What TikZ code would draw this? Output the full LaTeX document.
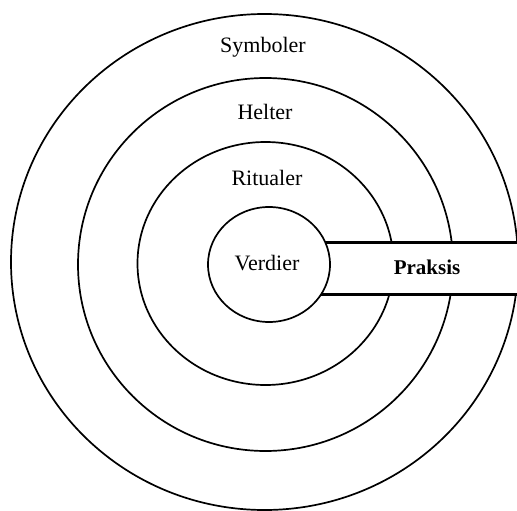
\documentclass[tikz,border=0pt]{standalone}
\usepackage{fontspec}
\setmainfont{Liberation Serif}
\usetikzlibrary{shapes.geometric}
\begin{document}
\begin{tikzpicture}[x=1pt,y=-1pt,
  ring/.style={draw=black,line width=1.7pt},
  lbl/.style={inner sep=0pt,font=\fontsize{22}{26}\selectfont},
  band/.style={draw=black,line width=3pt}]
\useasboundingbox[fill=white] (0,0) rectangle (517,511);
% rings
\draw[ring] (264.5,262) ellipse [x radius=253.5pt, y radius=248pt];
\draw[ring] (265.5,264.5) ellipse [x radius=187.5pt, y radius=186.5pt];
\draw[ring] (265.5,263.5) ellipse [x radius=128pt, y radius=121.5pt];
% band cover
\fill[white] (300,242) rectangle (517,294);
% inner circle
\node[ring, ellipse, minimum width=122pt, minimum height=115pt, inner sep=0pt, fill=white] (verdier) at (269,264.5) {};
\coordinate (t1) at (325.1,242);
\coordinate (t2) at (517,242);
\coordinate (b1) at (321.4,294);
\coordinate (b2) at (517,294);
\draw[band] (t1) -- (t2);
\draw[band] (b1) -- (b2);
% labels
\node[lbl] (symboler) at (263,47) {Symboler};
\node[lbl] (helter) at (265,112) {Helter};
\node[lbl] (ritualer) at (267,178) {Ritualer};
\node[lbl] (verdiert) at (267,263) {Verdier};
\node[lbl,font=\fontsize{21}{25}\selectfont\bfseries] (praksis) at (427,267) {Praksis};
\end{tikzpicture}
\end{document}
